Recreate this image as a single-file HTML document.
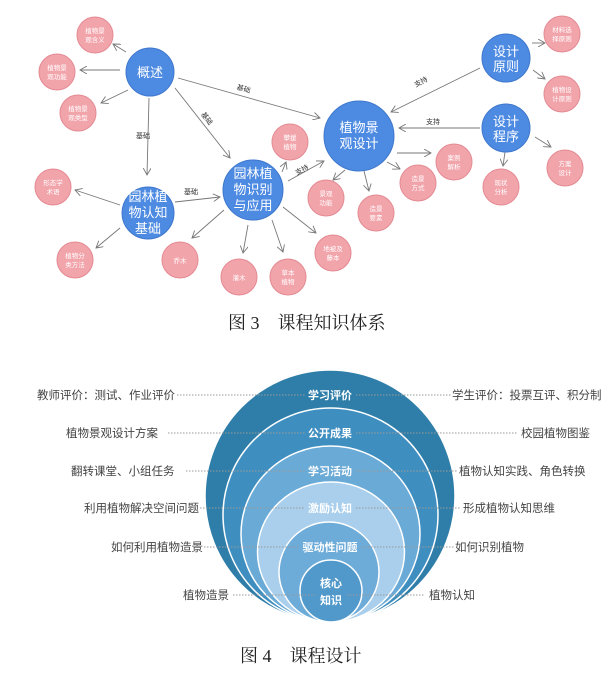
<!DOCTYPE html>
<html><head><meta charset="utf-8"><style>
html,body{margin:0;padding:0;background:#fff;}
svg{display:block;}
text{font-family:"Liberation Sans","Noto Sans CJK SC",sans-serif;}
.cap{font-family:"Liberation Serif","Noto Serif CJK SC",serif;font-size:18px;fill:#222;}
.bl{fill:#4d8ae2;stroke:#3f78cc;stroke-width:1}
.pk{fill:#f2a4ab;stroke:#e48a93;stroke-width:1}
.bt{fill:#fff;font-size:13px;text-anchor:middle}
.pt{fill:#fff;font-size:6.5px;text-anchor:middle}
.e{stroke:#777;stroke-width:0.9;fill:none;marker-end:url(#a)}
.el{font-size:7px;fill:#333;text-anchor:middle}
.lab{font-size:11.5px;fill:#444}
.dot{stroke:#999;stroke-width:1;stroke-dasharray:1.5 1.5}
.it{fill:#fff;font-size:11px;font-weight:bold;text-anchor:middle}
</style></head><body>
<svg width="606" height="674" viewBox="0 0 606 674" xmlns="http://www.w3.org/2000/svg">
<defs><marker id="a" markerWidth="8" markerHeight="8" refX="7" refY="4" orient="auto" markerUnits="userSpaceOnUse"><path d="M0,0 L7,4 L0,8" fill="none" stroke="#777" stroke-width="0.9"/></marker></defs>
<line class="e" x1="126" y1="52" x2="113" y2="44"/>
<line class="e" x1="120" y1="70" x2="80" y2="70"/>
<line class="e" x1="128" y1="90" x2="101" y2="103"/>
<line class="e" x1="149" y1="98" x2="147" y2="175"/>
<text class="el" x="143" y="138">基础</text>
<line class="e" x1="175" y1="88" x2="230" y2="158"/>
<text class="el" x="205" y="120" transform="rotate(52 205 120)">基础</text>
<line class="e" x1="178" y1="78" x2="320" y2="118"/>
<text class="el" x="243" y="91" transform="rotate(16 243 91)">基础</text>
<line class="e" x1="175" y1="202" x2="220" y2="197"/>
<text class="el" x="191" y="194">基础</text>
<line class="e" x1="120" y1="205" x2="75" y2="190"/>
<line class="e" x1="120" y1="228" x2="96" y2="248"/>
<line class="e" x1="224" y1="210" x2="192" y2="238"/>
<line class="e" x1="248" y1="225" x2="243" y2="253"/>
<line class="e" x1="272" y1="220" x2="283" y2="252"/>
<line class="e" x1="283" y1="207" x2="316" y2="233"/>
<line class="e" x1="282" y1="172" x2="286" y2="162"/>
<line class="e" x1="288" y1="181" x2="324" y2="161"/>
<text class="el" x="303" y="172" transform="rotate(-28 303 172)">支持</text>
<line class="e" x1="345" y1="170" x2="333" y2="180"/>
<line class="e" x1="364" y1="171" x2="369" y2="191"/>
<line class="e" x1="387" y1="162" x2="400" y2="169"/>
<line class="e" x1="397" y1="153" x2="431" y2="153"/>
<line class="e" x1="480" y1="68" x2="391" y2="112"/>
<text class="el" x="422" y="84" transform="rotate(-28 422 84)">支持</text>
<line class="e" x1="480" y1="128" x2="399" y2="128"/>
<text class="el" x="433" y="124">支持</text>
<line class="e" x1="532" y1="43" x2="545" y2="43"/>
<line class="e" x1="533" y1="70" x2="545" y2="79"/>
<line class="e" x1="505" y1="152" x2="503" y2="166"/>
<line class="e" x1="535" y1="137" x2="551" y2="147"/>
<circle class="bl" cx="150" cy="72" r="24"/><text class="bt" x="150" y="77">概述</text>
<circle class="bl" cx="148" cy="213" r="26"/><text class="bt" x="148" y="201">园林植</text><text class="bt" x="148" y="217">物认知</text><text class="bt" x="148" y="233">基础</text>
<circle class="bl" cx="253" cy="190" r="30"/><text class="bt" x="253" y="178">园林植</text><text class="bt" x="253" y="194">物识别</text><text class="bt" x="253" y="210">与应用</text>
<circle class="bl" cx="359" cy="136" r="35"/><text class="bt" x="359" y="132">植物景</text><text class="bt" x="359" y="148">观设计</text>
<circle class="bl" cx="506" cy="58" r="24"/><text class="bt" x="506" y="56">设计</text><text class="bt" x="506" y="71">原则</text>
<circle class="bl" cx="506" cy="128" r="24"/><text class="bt" x="506" y="126">设计</text><text class="bt" x="506" y="141">程序</text>
<g>
<circle class="pk" cx="95" cy="35" r="18"/><text class="pt" x="95" y="33">植物景</text><text class="pt" x="95" y="42">观含义</text>
<circle class="pk" cx="57" cy="72" r="18"/><text class="pt" x="57" y="70">植物景</text><text class="pt" x="57" y="79">观功能</text>
<circle class="pk" cx="78" cy="113" r="18"/><text class="pt" x="78" y="111">植物景</text><text class="pt" x="78" y="120">观类型</text>
<circle class="pk" cx="53" cy="187" r="18"/><text class="pt" x="53" y="185">形态学</text><text class="pt" x="53" y="194">术语</text>
<circle class="pk" cx="75" cy="260" r="18"/><text class="pt" x="75" y="258">植物分</text><text class="pt" x="75" y="267">类方法</text>
<circle class="pk" cx="180" cy="260" r="18"/><text class="pt" x="180" y="263">乔木</text>
<circle class="pk" cx="239" cy="277" r="18"/><text class="pt" x="239" y="280">灌木</text>
<circle class="pk" cx="288" cy="277" r="18"/><text class="pt" x="288" y="275">草本</text><text class="pt" x="288" y="284">植物</text>
<circle class="pk" cx="333" cy="253" r="18"/><text class="pt" x="333" y="251">地被及</text><text class="pt" x="333" y="260">藤本</text>
<circle class="pk" cx="290" cy="142" r="18"/><text class="pt" x="290" y="140">攀援</text><text class="pt" x="290" y="149">植物</text>
<circle class="pk" cx="326" cy="198" r="18"/><text class="pt" x="326" y="196">景观</text><text class="pt" x="326" y="205">功能</text>
<circle class="pk" cx="376" cy="213" r="18"/><text class="pt" x="376" y="211">造景</text><text class="pt" x="376" y="220">要素</text>
<circle class="pk" cx="418" cy="183" r="18"/><text class="pt" x="418" y="181">造景</text><text class="pt" x="418" y="190">方式</text>
<circle class="pk" cx="454" cy="162" r="18"/><text class="pt" x="454" y="160">案例</text><text class="pt" x="454" y="169">解析</text>
<circle class="pk" cx="501" cy="187" r="18"/><text class="pt" x="501" y="185">现状</text><text class="pt" x="501" y="194">分析</text>
<circle class="pk" cx="565" cy="168" r="18"/><text class="pt" x="565" y="166">方案</text><text class="pt" x="565" y="175">设计</text>
<circle class="pk" cx="562" cy="34" r="18"/><text class="pt" x="562" y="32">材料选</text><text class="pt" x="562" y="41">择原则</text>
<circle class="pk" cx="562" cy="94" r="18"/><text class="pt" x="562" y="92">植物设</text><text class="pt" x="562" y="101">计原则</text>
</g>
<text class="cap" x="228" y="329">图 3　课程知识体系</text>
<g stroke="#fff" stroke-width="1.5">
<ellipse cx="330" cy="496" rx="125" ry="126" fill="#2f7ea9"/>
<ellipse cx="330.5" cy="515" rx="107.5" ry="107" fill="#3f8ec0"/>
<ellipse cx="330.5" cy="534" rx="89.5" ry="88" fill="#6aaad6"/>
<ellipse cx="331" cy="552" rx="73.5" ry="70" fill="#a9cfec"/>
<ellipse cx="329" cy="572" rx="50" ry="50" fill="#6dabd8"/>
<ellipse cx="331" cy="591" rx="31" ry="31" fill="#5199cb"/>
</g>
<g class="dot">
<line x1="177" y1="395" x2="305" y2="395"/><line x1="356" y1="395" x2="452" y2="395"/>
<line x1="168" y1="433" x2="305" y2="433"/><line x1="356" y1="433" x2="518" y2="433"/>
<line x1="186" y1="471" x2="305" y2="471"/><line x1="356" y1="471" x2="458" y2="471"/>
<line x1="200" y1="508" x2="305" y2="508"/><line x1="356" y1="508" x2="460" y2="508"/>
<line x1="204" y1="547" x2="300" y2="547"/><line x1="362" y1="547" x2="454" y2="547"/>
<line x1="233" y1="595" x2="315" y2="595"/><line x1="347" y1="595" x2="425" y2="595"/>
</g>
<g class="lab">
<text x="37" y="399">教师评价：测试、作业评价</text>
<text x="66" y="437">植物景观设计方案</text>
<text x="71" y="475">翻转课堂、小组任务</text>
<text x="84" y="512">利用植物解决空间问题</text>
<text x="111" y="551">如何利用植物造景</text>
<text x="183" y="599">植物造景</text>
<text x="452" y="399">学生评价：投票互评、积分制</text>
<text x="521" y="437">校园植物图鉴</text>
<text x="459" y="475">植物认知实践、角色转换</text>
<text x="463" y="512">形成植物认知思维</text>
<text x="455" y="551">如何识别植物</text>
<text x="429" y="599">植物认知</text>
</g>
<text class="it" x="330" y="399">学习评价</text>
<text class="it" x="330" y="437">公开成果</text>
<text class="it" x="330" y="475">学习活动</text>
<text class="it" x="330" y="512">激励认知</text>
<text class="it" x="330" y="551">驱动性问题</text>
<text class="it" x="331" y="587">核心</text>
<text class="it" x="331" y="604">知识</text>
<text class="cap" x="240" y="662">图 4　课程设计</text>
</svg>
</body></html>
